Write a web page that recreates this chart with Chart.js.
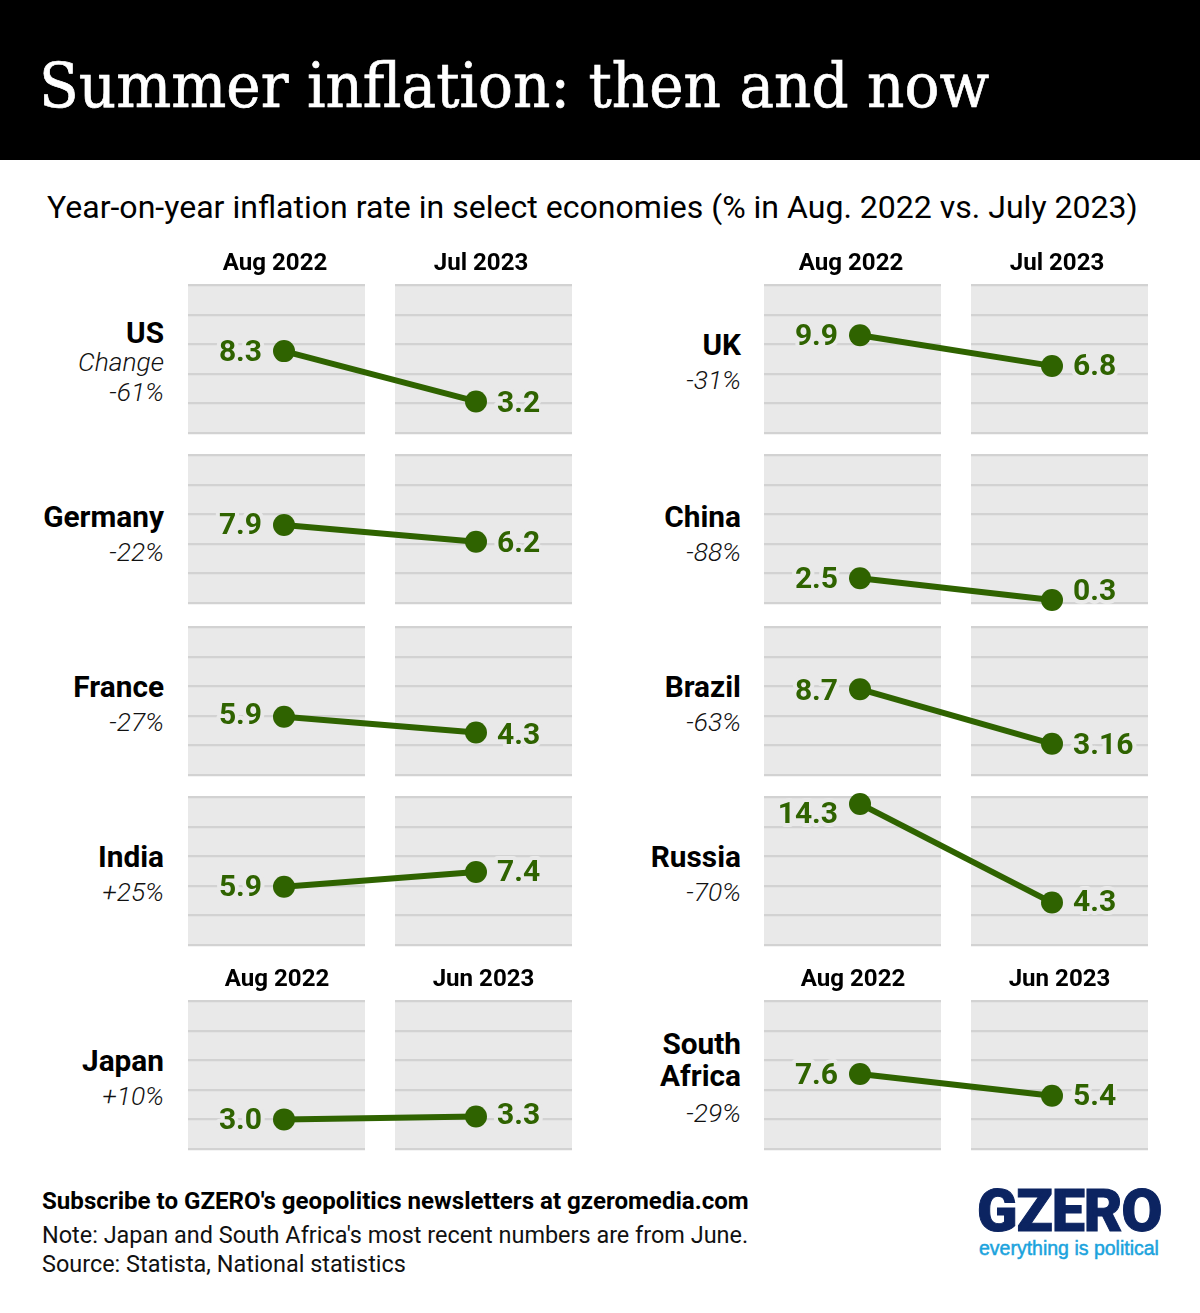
<!DOCTYPE html>
<html>
<head>
<meta charset="utf-8">
<script src="https://cdn.jsdelivr.net/npm/chart.js@4"></script>
<style>
html,body{margin:0;padding:0;background:#fff;width:1200px;height:1313px;overflow:hidden}
body{position:relative;font-family:Roboto,sans-serif;color:#000}
#band{position:absolute;left:0;top:0;width:1200px;height:160px;background:#000}
#title{position:absolute;left:39px;top:44px;font:400 61px/84px "DejaVu Serif",serif;color:#fff;white-space:nowrap;transform-origin:0 0;-webkit-text-stroke:0.7px #fff}
#sub{position:absolute;left:47px;top:186px;font:400 32.05px/42px Roboto;white-space:nowrap}
canvas{position:absolute;pointer-events:none}
.c{position:absolute;text-align:right;white-space:nowrap;transform:translateY(-50%)}
.n{font:700 29.8px/32px Roboto}
.p{font:italic 300 26.4px/30px Roboto;color:#111}
.f{position:absolute;left:42px;white-space:nowrap;transform:translateY(-50%);font:400 23.45px/28px Roboto;color:#111}
#logo{position:absolute;left:977px;top:1182px;font:900 59px/58px Roboto;color:#0c2461;white-space:nowrap;letter-spacing:-1px;-webkit-text-stroke:1px #0c2461;transform-origin:0 0}
#tag{position:absolute;left:979px;top:1236px;font:400 19.5px/24px "Liberation Sans";color:#1ba3dd;white-space:nowrap;-webkit-text-stroke:0.5px #1ba3dd;transform-origin:0 0}
</style>
</head>
<body>
<div id="band"></div>
<div id="title">Summer inflation: then and now</div>
<div id="sub">Year-on-year inflation rate in select economies (% in Aug. 2022 vs. July 2023)</div>
<div id="labels"></div>
<div class="f" style="top:1201px;font-weight:700;color:#000;font-size:24.1px">Subscribe to GZERO's geopolitics newsletters at gzeromedia.com</div>
<div class="f" style="top:1235px">Note: Japan and South Africa's most recent numbers are from June.</div>
<div class="f" style="top:1264px">Source: Statista, National statistics</div>
<div id="logo">GZERO</div>
<div id="tag">everything is political</div>
<script>
// ---- data ----
const countries = ["US","Germany","France","India","Japan","UK","China","Brazil","Russia","South Africa"];
const firstMonth = ["Aug 2022","Aug 2022","Aug 2022","Aug 2022","Aug 2022","Aug 2022","Aug 2022","Aug 2022","Aug 2022","Aug 2022"];
const lastMonth = ["Jul 2023","Jul 2023","Jul 2023","Jul 2023","Jun 2023","Jul 2023","Jul 2023","Jul 2023","Jul 2023","Jun 2023"];
const aug2022 = [8.3,7.9,5.9,5.9,3.0,9.9,2.5,8.7,14.3,7.6];
const latest = [3.2,6.2,4.3,7.4,3.3,6.8,0.3,3.16,4.3,5.4];
const changes = ["-61%","-22%","-27%","+25%","+10%","-31%","-88%","-63%","-70%","-29%"];
const yTicks = {min:0,max:15,step:3};

// ---- layout (separate from the data) ----
const colX = [188,764];
const rowY = [285,455,627,797,1001];
const chartH = 147.6, chartW = 384, padTop = 50, padBottom = 12;
const slots = [[0,0],[0,1],[0,2],[0,3],[0,4],[1,0],[1,1],[1,2],[1,3],[1,4]];
const showHeader = [true,false,false,false,true,true,false,false,false,true];
const headerY = 22;
const nudge = {0:[0,1],1:[-1,1],2:[-2,2],3:[0,0],4:[0,-2],5:[0,0],6:[0,-10],7:[1,1],8:[10,-1],9:[0,0]};
const nameY = [333,517,687,857,1061,345,517,687,857,null];
const pctY = [392,552,722,892,1096,380,552,722,892,1113];
const ink = "#2f6300", panel = "#e9e9e9", grid = "#d2d2d2";

const fmt = v => Math.round(v*10)/10 === v ? v.toFixed(1) : String(v);

const labelsEl = document.getElementById("labels");
function addText(cls,text,right,y){
  const d=document.createElement("div");d.className="c "+cls;d.textContent=text;
  d.style.right=(1200-right)+"px";d.style.top=y+"px";labelsEl.appendChild(d);
}

const panelPlugin = {
  id:"panel",
  beforeDraw(c){
    const a=c.chartArea,x=c.ctx;
    x.save();x.fillStyle=panel;x.fillRect(a.left,a.top,a.right-a.left,a.bottom-a.top);x.restore();
  },
  beforeDatasetsDraw(c){
    const a=c.chartArea,x=c.ctx,m=(a.left+a.right)/2;
    x.save();x.fillStyle="#fff";x.fillRect(m-15,a.top-3,30,a.bottom-a.top+6);x.restore();
  },
  afterDatasetsDraw(c,args,o){
    const x=c.ctx,pts=c.getDatasetMeta(0).data,vals=c.data.datasets[0].data,a=c.chartArea;
    x.save();
    x.font='700 30px Roboto';x.textBaseline="middle";x.lineJoin="round";
    pts.forEach((p,i)=>{
      const left=i===0,tx=left?p.x-22:p.x+21,ty=p.y+o.nudge[i]+2;
      x.textAlign=left?"right":"left";
      x.lineWidth=8;x.strokeStyle=panel;x.strokeText(fmt(vals[i]),tx,ty);
      x.fillStyle=ink;x.fillText(fmt(vals[i]),tx,ty);
    });
    if(o.header){
      const jun=c.data.labels[1].startsWith("Jun");
      x.font='700 24.1px Roboto';x.fillStyle="#000";x.textAlign="center";x.textBaseline="middle";
      x.fillText(c.data.labels[0],a.left+(jun?89:87),a.top-headerY+1);
      x.fillText(c.data.labels[1],a.left+(jun?295.5:293),a.top-headerY+1);
    }
    x.restore();
  }
};

countries.forEach((name,i)=>{
  const [cx,ry]=slots[i], left=colX[cx], top=rowY[ry];
  const cv=document.createElement("canvas");
  cv.width=chartW;cv.height=Math.round(chartH+padTop+padBottom);
  cv.style.left=left+"px";cv.style.top=(top-padTop)+"px";
  document.body.appendChild(cv);
  new Chart(cv,{
    type:"line",
    plugins:[panelPlugin],
    data:{labels:[firstMonth[i],lastMonth[i]],
      datasets:[{label:name,data:[aug2022[i],latest[i]],borderColor:ink,backgroundColor:ink,borderWidth:6,
        pointRadius:11,pointHoverRadius:11,pointBackgroundColor:ink,pointBorderWidth:0,clip:false,tension:0}]},
    options:{
      responsive:false,animation:false,devicePixelRatio:1,
      events:[],
      layout:{autoPadding:false,padding:{top:padTop,bottom:padBottom,left:0,right:0}},
      plugins:{legend:{display:false},tooltip:{enabled:false},
        panel:{nudge:nudge[i],header:showHeader[i]}},
      scales:{
        x:{type:"category",display:false,offset:true},
        y:{min:yTicks.min,max:yTicks.max,display:true,
          afterFit(s){s.width=0;},
          border:{display:false},
          grid:{color:grid,lineWidth:2.2,drawTicks:false},
          ticks:{display:false,stepSize:yTicks.step}}
      }
    }
  });
  const right=cx===0?left-24:left-23;
  if(name==="South Africa"){
    addText("n","South",right,1044);addText("n","Africa",right,1076);
  } else addText("n",name,right,nameY[i]);
  if(name==="US") addText("p","Change",right,362);
  addText("p",changes[i],right,pctY[i]);
});
// fit the substitute fonts to the reference widths
const t=document.getElementById("title");
t.style.transform="scaleX("+(950/t.offsetWidth)+")";
const g=document.getElementById("tag");
g.style.transform="scaleX("+(180/g.offsetWidth)+")";
const l=document.getElementById("logo");
l.style.transform="scaleX("+(184/l.offsetWidth)+")";
</script>
</body>
</html>
